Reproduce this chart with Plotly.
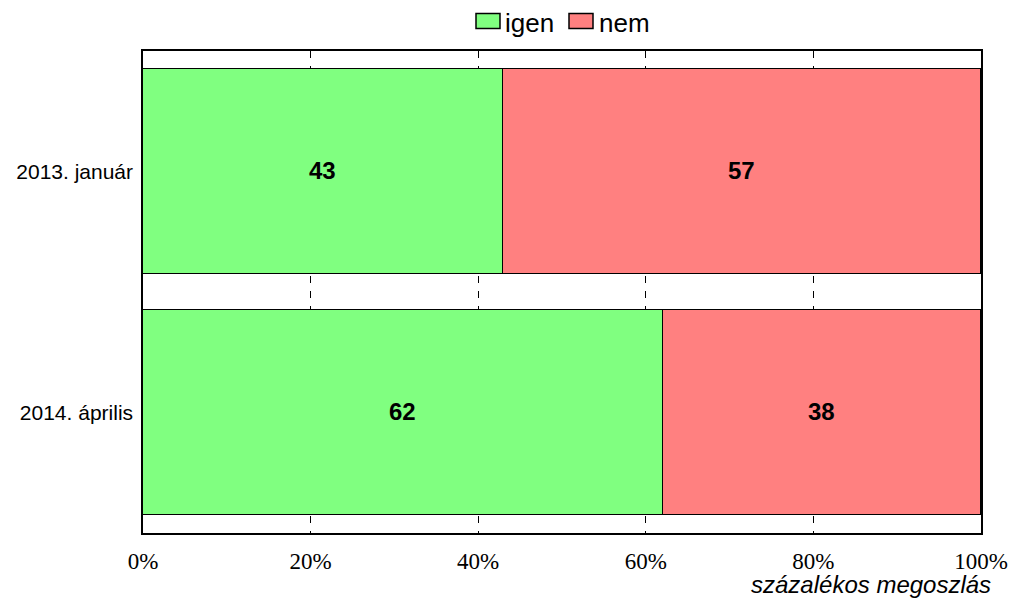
import plotly.graph_objects as go

categories = ["2013. január", "2014. április"]
igen = [43, 62]
nem = [57, 38]
series_names = ["igen", "nem"]
series_colors = ["#80FF80", "#FF8080"]
x_ticks = [0, 20, 40, 60, 80, 100]
x_tick_labels = ["0%", "20%", "40%", "60%", "80%", "100%"]
axis_title = "százalékos megoszlás"

W, H = 1011, 599
L, R, T, B = 143, 30, 51, 66
PW, PH = W - L - R, H - T - B


def px_x(px):
    return (px - L) / PW


def px_y(py):
    return (H - B - py) / PH


ypos = list(range(len(categories)))

fig = go.Figure()
for name, vals, col in zip(series_names, [igen, nem], series_colors):
    fig.add_trace(go.Bar(
        y=ypos, x=vals, orientation="h", name=name,
        marker=dict(color=col, line=dict(color="black", width=1.3)),
        width=0.851, text=[str(v) for v in vals], textposition="inside",
        insidetextanchor="middle", showlegend=False,
        textfont=dict(family="Liberation Sans", size=24, color="black", weight="bold"),
    ))

# legend drawn as boxes + labels
legend_items = [(476, 503), (569, 597)]
shapes = []
annotations = []
for (bx, tx), name, col in zip(legend_items, series_names, series_colors):
    shapes.append(dict(type="rect", xref="paper", yref="paper",
                       x0=px_x(bx), x1=px_x(bx + 24), y0=px_y(28.5), y1=px_y(13.5),
                       fillcolor=col, line=dict(color="black", width=1.5), layer="above"))
    annotations.append(dict(text=name, xref="paper", yref="paper",
                            x=px_x(tx), y=px_y(23), xanchor="left", yanchor="middle",
                            showarrow=False,
                            font=dict(family="Liberation Sans", size=26, color="black")))

annotations.append(dict(
    text="<i>" + axis_title + "</i>", xref="paper", yref="paper",
    x=px_x(993), y=px_y(584), xanchor="right", yanchor="middle",
    showarrow=False, font=dict(family="Liberation Sans", size=24, color="black"),
))

fig.update_layout(
    barmode="stack",
    width=W, height=H,
    margin=dict(l=L, r=R, t=T, b=B, autoexpand=False),
    paper_bgcolor="white", plot_bgcolor="white",
    showlegend=False,
    bargap=0,
    shapes=shapes,
    annotations=annotations,
    xaxis=dict(
        range=[0, 100], tickvals=x_ticks, ticktext=x_tick_labels,
        showgrid=True, gridcolor="black", gridwidth=1, griddash="7px,8px",
        showline=True, linecolor="black", linewidth=1.5, mirror=True,
        ticks="", zeroline=False,
        tickfont=dict(family="Liberation Serif", size=23, color="black"),
        ticklabelstandoff=7,
    ),
    yaxis=dict(
        range=[1.5, -0.5], tickvals=ypos, ticktext=categories,
        showgrid=False, showline=True, linecolor="black", linewidth=1.5, mirror=True,
        ticks="", zeroline=False,
        tickfont=dict(family="Liberation Sans", size=21, color="black"),
        ticklabelstandoff=4,
    ),
)

fig.write_html("out.html", config={"displayModeBar": False},
               post_script="document.body.style.margin='0px';")
